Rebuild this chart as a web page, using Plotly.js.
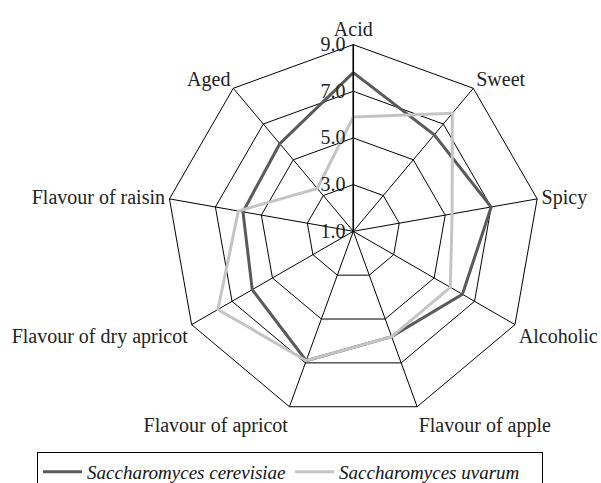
<!DOCTYPE html>
<html>
<head>
<meta charset="utf-8">
<script src="https://cdn.plot.ly/plotly-3.0.1.min.js"></script>
<style>html,body{margin:0;padding:0;background:#fff;}#chart{width:601px;height:483px;}</style>
</head>
<body>
<div id="chart"></div>
<script>
const categories = ["Acid", "Sweet", "Spicy", "Alcoholic", "Flavour of apple", "Flavour of apricot", "Flavour of dry apricot", "Flavour of raisin", "Aged"];
const cerevisiae = [7.8, 6.4, 7.0, 6.4, 5.8, 6.9, 6.0, 5.8, 5.9];
const uvarum = [5.9, 7.6, 5.3, 5.8, 5.8, 6.9, 7.7, 6.0, 3.4];
const tickVals = [1, 3, 5, 7, 9];
const tickText = ["1.0", "3.0", "5.0", "7.0", "9.0"];

function closed(a) { return a.concat([a[0]]); }

const FONT = "'Liberation Serif', 'Times New Roman', Times, serif";

const traces = [
  {
    type: "scatterpolar", mode: "lines",
    r: closed(cerevisiae), theta: closed(categories),
    name: "<i>Saccharomyces cerevisiae</i>",
    line: {color: "#5a5a5a", width: 3}
  },
  {
    type: "scatterpolar", mode: "lines",
    r: closed(uvarum), theta: closed(categories),
    name: "<i>Saccharomyces uvarum</i>",
    line: {color: "#c4c4c4", width: 3}
  }
];

const layout = {
  width: 601, height: 483,
  margin: {l: 0, r: 0, t: 0, b: 0},
  paper_bgcolor: "#fff",
  font: {family: FONT, size: 20, color: "#222"},
  showlegend: true,
  legend: {
    orientation: "h",
    xref: "container", yref: "container",
    x: 0.0616, xanchor: "left", y: 0.0642, yanchor: "top",
    bordercolor: "#000", borderwidth: 1, bgcolor: "#fff",
    font: {family: FONT, size: 19, color: "#111"},
    itemwidth: 39, entrywidth: 198, entrywidthmode: "pixels"
  },
  polar: {
    domain: {x: [0.2772, 0.8985], y: [0.0752, 0.9013]},
    gridshape: "linear",
    bgcolor: "#fff",
    radialaxis: {
      range: [1, 9], tickvals: tickVals, ticktext: tickText,
      angle: 90, tickangle: 90, side: "counterclockwise",
      showline: true, linecolor: "#000", linewidth: 1.5,
      gridcolor: "#000", gridwidth: 1, ticks: "",
      tickfont: {family: FONT, size: 20, color: "#222"}
    },
    angularaxis: {
      rotation: 90, direction: "clockwise",
      showline: true, linecolor: "#000", linewidth: 1,
      gridcolor: "#000", gridwidth: 1, ticks: "",
      tickfont: {family: FONT, size: 20, color: "#222"}
    }
  }
};

Plotly.newPlot("chart", traces, layout, {displayModeBar: false, staticPlot: true});
</script>
</body>
</html>
